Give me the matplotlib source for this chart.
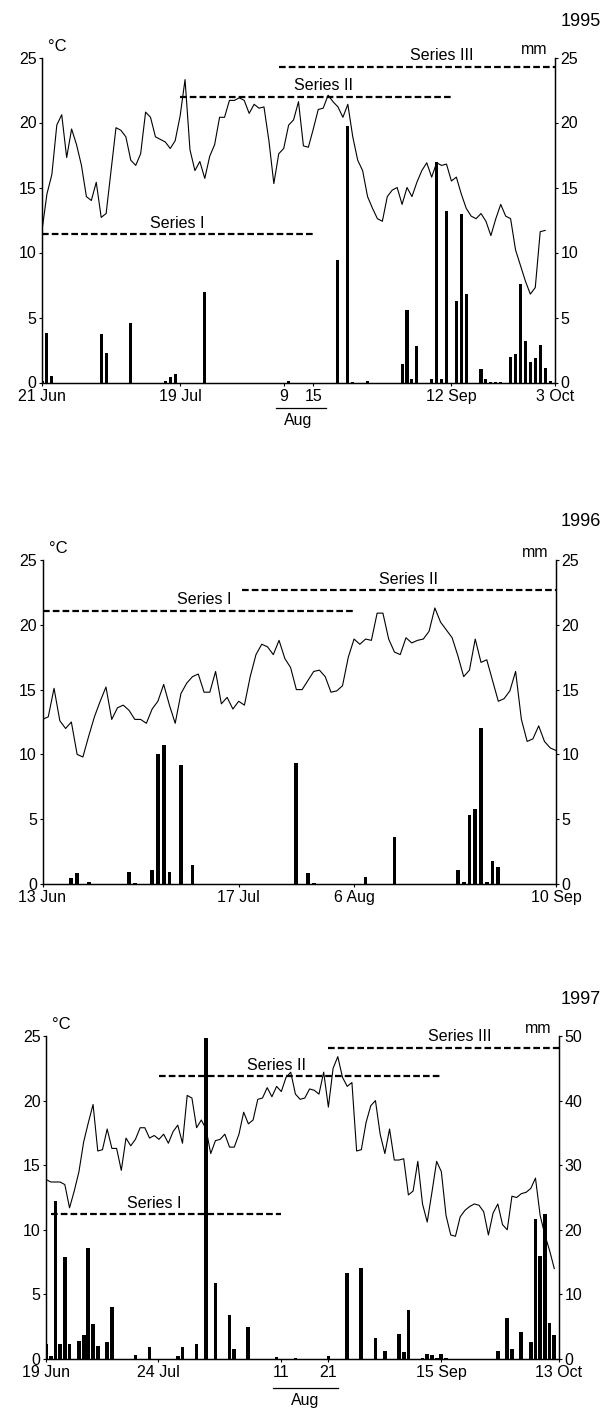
import matplotlib
matplotlib.use("Agg")
import matplotlib.pyplot as plt
import matplotlib.transforms as mtransforms

plt.rcParams['font.family'] = ['Liberation Sans', 'DejaVu Sans']
plt.rcParams['font.size'] = 11

# ---------------- 1995 ----------------
temp95 = [11.7, 14.5, 16.0, 19.8, 20.6, 17.3, 19.5, 18.3, 16.7, 14.3,
          14.0, 15.4, 12.7, 13.0, 16.3, 19.6, 19.4, 18.9, 17.1, 16.7,
          17.6, 20.8, 20.4, 18.9, 18.7, 18.5, 18.0, 18.6, 20.5, 23.3,
          17.9, 16.3, 17.0, 15.7, 17.4, 18.3, 20.4, 20.4, 21.7, 21.7,
          21.9, 21.7, 20.7, 21.4, 21.1, 21.2, 18.6, 15.3, 17.6, 18.0,
          19.8, 20.2, 21.6, 18.2, 18.1, 19.5, 21.0, 21.1, 22.1, 21.6,
          21.2, 20.4, 21.4, 18.9, 17.1, 16.3, 14.3, 13.4, 12.6, 12.4,
          14.3, 14.8, 15.0, 13.7, 15.0, 14.3, 15.4, 16.3, 16.9, 15.8,
          16.9, 16.7, 16.8, 15.5, 15.8, 14.5, 13.4, 12.8, 12.6, 13.0,
          12.4, 11.3, 12.6, 13.7, 12.8, 12.6, 10.2, 9.0, 7.8, 6.8,
          7.3, 11.6, 11.7]
rain95_day = [0, 1, 2, 12, 13, 18, 25, 26, 27, 33, 50, 60, 62, 63, 66,
              73, 74, 75, 76, 79, 80, 81, 82, 84, 85, 86, 89, 90, 91, 92, 93,
              95, 96, 97, 98, 99, 100, 101, 102, 103]
rain95_mm = [0.15, 3.8, 0.5, 3.7, 2.3, 4.6, 0.15, 0.45, 0.65, 7.0, 0.15, 9.4, 19.7, 0.05, 0.15,
             1.45, 5.6, 0.25, 2.8, 0.3, 17.0, 0.3, 13.2, 6.3, 13.0, 6.8, 1.05, 0.25, 0.05, 0.05, 0.05,
             2.0, 2.2, 7.6, 3.2, 1.6, 1.9, 2.9, 1.15, 0.1]
ndays95 = 104
ticks95 = [0, 28, 49, 55, 83, 104]
ticklabels95 = ['21 Jun', '19 Jul', '9', '15', '12 Sep', '3 Oct']
series95_names = ['Series I', 'Series II', 'Series III']
series95_start = [0, 28, 48]
series95_end = [55, 83, 104]
series95_level = [11.4, 22.0, 24.3]
series95_labelx = [27.5, 57, 81]

# ---------------- 1996 ----------------
temp96 = [12.7, 12.9, 15.1, 12.6, 12.0, 12.5, 10.0, 9.8, 11.4, 12.9,
          14.1, 15.2, 12.7, 13.6, 13.8, 13.4, 12.7, 12.7, 12.4, 13.5,
          14.1, 15.4, 13.8, 12.4, 14.7, 15.5, 16.0, 16.2, 14.8, 14.8,
          16.4, 13.9, 14.4, 13.5, 14.1, 13.8, 16.0, 17.7, 18.5, 18.3,
          17.7, 18.8, 17.4, 16.7, 15.0, 15.0, 15.7, 16.4, 16.5, 16.0,
          14.8, 14.9, 15.3, 17.5, 18.9, 18.5, 18.9, 18.8, 20.9, 20.9,
          18.9, 17.9, 17.7, 19.0, 18.6, 18.8, 18.9, 19.5, 21.3, 20.2,
          19.6, 19.0, 17.6, 16.0, 16.5, 18.9, 17.1, 17.3, 15.7, 14.1,
          14.3, 14.9, 16.4, 12.7, 11.0, 11.2, 12.2, 11.0, 10.5, 10.3]
rain96_day = [5, 6, 8, 15, 16, 19, 20, 21, 22, 24, 26, 44, 46, 47, 56, 61,
              72, 73, 74, 75, 76, 77, 78, 79]
rain96_mm = [0.5, 0.85, 0.15, 0.95, 0.1, 1.05, 10.0, 10.7, 0.95, 9.2, 1.5, 9.3, 0.85, 0.1, 0.55, 3.6,
             1.05, 0.15, 5.3, 5.8, 12.0, 0.15, 1.8, 1.35]
ndays96 = 89
ticks96 = [0, 34, 54, 89]
ticklabels96 = ['13 Jun', '17 Jul', '6 Aug', '10 Sep']
series96_names = ['Series I', 'Series II']
series96_start = [0, 34.5]
series96_end = [54, 89]
series96_level = [21.1, 22.7]
series96_labelx = [28, 63.5]

# ---------------- 1997 ----------------
temp97 = [13.9, 13.7, 13.7, 13.7, 13.5, 11.7, 13.0, 14.5, 16.8, 18.3,
          19.7, 16.1, 16.2, 17.8, 16.3, 16.3, 14.6, 17.1, 16.5, 17.0,
          17.9, 17.9, 17.1, 17.3, 17.0, 17.4, 16.7, 17.6, 18.1, 16.7,
          20.4, 20.2, 17.9, 18.5, 17.8, 15.9, 16.9, 17.0, 17.4, 16.4,
          16.4, 17.4, 19.1, 18.2, 18.5, 20.1, 20.2, 21.0, 20.3, 21.1,
          20.7, 21.8, 22.2, 20.5, 20.1, 20.2, 20.9, 20.8, 20.5, 22.2,
          19.5, 22.5, 23.4, 21.8, 21.1, 21.4, 16.1, 16.2, 18.3, 19.6,
          20.0, 17.4, 15.9, 17.8, 15.4, 15.4, 15.5, 12.7, 13.0, 15.3,
          12.0, 10.6, 12.9, 15.3, 14.5, 11.1, 9.6, 9.5, 11.0, 11.5,
          11.8, 12.0, 11.9, 11.4, 9.6, 11.3, 12.0, 10.4, 10.0, 12.6,
          12.5, 12.8, 12.9, 13.2, 14.0, 11.1, 9.6, 8.4, 7.0]
rain97_day = [0, 1, 2, 3, 4, 5, 7, 8, 9, 10, 11, 13, 14, 19, 22, 28, 29, 32, 34, 36,
              39, 40, 43, 49, 53, 60, 64, 67, 70, 72, 75, 76, 77, 80, 81, 82, 83, 84, 85,
              87, 88, 89, 94, 95, 96, 98, 99, 101, 103, 104, 105, 106, 107, 108]
rain97_mm = [2.3, 0.5, 24.5, 2.3, 15.8, 2.3, 2.8, 3.7, 17.2, 5.4, 2.0, 2.6, 8.1, 0.6, 1.8, 0.5, 1.8, 2.3, 49.7, 11.7,
             6.8, 1.5, 5.0, 0.3, 0.1, 0.5, 13.3, 14.1, 3.2, 1.3, 3.8, 1.1, 7.6, 0.1, 0.8, 0.6, 0.1, 0.7, 0.15,
             0.05, 0.05, 0.05, 0.05, 0.05, 1.3, 6.4, 1.5, 4.2, 2.7, 21.6, 16.0, 22.4, 5.5, 3.7]
ndays97 = 109
ticks97 = [0, 23.8, 50, 60, 84, 109]
ticklabels97 = ['19 Jun', '24 Jul', '11', '21', '15 Sep', '13 Oct']
series97_names = ['Series I', 'Series II', 'Series III']
series97_start = [1, 24, 60]
series97_end = [50, 84, 109]
series97_level = [11.2, 21.9, 24.1]
series97_labelx = [23, 49, 88]

W, H = 611, 1409
fig = plt.figure(figsize=(W / 100, H / 100), dpi=100)


def px_rect(left, right, top, bottom):
    return [left / W, 1 - bottom / H, (right - left) / W, (bottom - top) / H]


def panel(rect, temp, rday, rmm, ndays, ticks, ticklabels, snames, sstart, send, slevel, slabx,
          rmax, rstep, barw, year, year_y, aug=None):
    ax = fig.add_axes(rect)
    ax2 = ax.twinx()
    ax.plot(range(len(temp)), temp, color='black', lw=0.8, zorder=3)
    ax2.bar(rday, rmm, width=barw, color='black', align='center', zorder=2)
    for name, s, e, lv, lx in zip(snames, sstart, send, slevel, slabx):
        ax.plot([s, e], [lv, lv], color='black', lw=1.6, linestyle=(0, (3, 1.4)),
                solid_capstyle='butt', dash_capstyle='butt', zorder=4)
        ax.text(lx, lv + 0.25, name, ha='center', va='bottom', fontsize=11.5, zorder=5)
    ax.set_xlim(0, ndays)
    ax.set_ylim(0, 25)
    ax.set_yticks([0, 5, 10, 15, 20, 25])
    ax2.set_ylim(0, rmax)
    ax2.set_yticks(list(range(0, rmax + 1, rstep)))
    ax.set_xticks(ticks)
    ax.set_xticklabels(ticklabels)
    for a in (ax, ax2):
        a.spines['top'].set_visible(False)
        for sp in ('left', 'right', 'bottom'):
            a.spines[sp].set_linewidth(0.9)
        a.tick_params(direction='out', length=2.5, width=0.8, pad=1.5, labelsize=11.5)
    ax.tick_params(axis='x', pad=2)
    ax.set_zorder(ax2.get_zorder() + 1)
    ax.patch.set_visible(False)
    ax.text(0.012, 1.012, '°C', transform=ax.transAxes, ha='left', va='bottom', fontsize=12)
    ax.text(0.985, 1.0, 'mm', transform=ax.transAxes, ha='right', va='bottom', fontsize=11.5)
    fig.text(601 / W, 1 - year_y / H, year, ha='right', va='center', fontsize=13)
    if aug is not None:
        x0, x1, yline, ytext, xtext = aug
        tr = mtransforms.blended_transform_factory(ax.transData, ax.transAxes)
        ax.plot([x0, x1], [yline, yline], transform=tr, color='black', lw=0.9, clip_on=False)
        ax.text(xtext, ytext, 'Aug', transform=tr, ha='center', va='center', fontsize=11.5)
    return ax


panel(px_rect(42, 555, 57.5, 382.5), temp95, rain95_day, rain95_mm, ndays95, ticks95, ticklabels95,
      series95_names, series95_start, series95_end, series95_level, series95_labelx,
      25, 5, 0.62, '1995', 21, aug=(47.5, 57.5, -0.078, -0.118, 52))
panel(px_rect(42.5, 556, 560, 884), temp96, rain96_day, rain96_mm, ndays96, ticks96, ticklabels96,
      series96_names, series96_start, series96_end, series96_level, series96_labelx,
      25, 5, 0.65, '1996', 521)
panel(px_rect(46, 559, 1036, 1359), temp97, rain97_day, rain97_mm, ndays97, ticks97, ticklabels97,
      series97_names, series97_start, series97_end, series97_level, series97_labelx,
      50, 10, 0.8, '1997', 999, aug=(48.3, 62, -0.09, -0.13, 55))

fig.savefig('out.png', dpi=100)
